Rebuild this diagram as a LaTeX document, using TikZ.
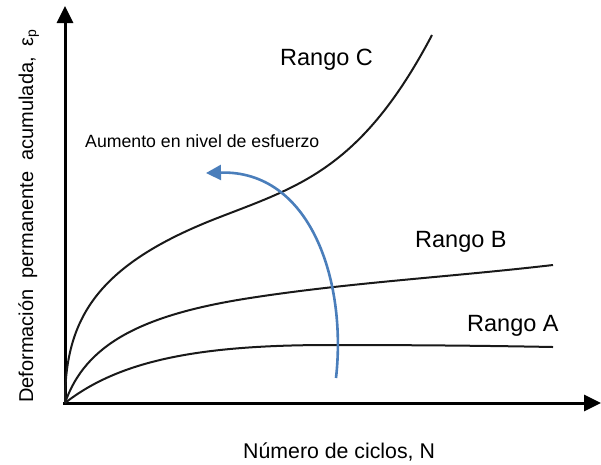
\documentclass[tikz,border=0pt]{standalone}
\usepackage{fontspec}
\setmainfont{Liberation Sans}
\usetikzlibrary{arrows.meta}
\definecolor{arrowblue}{RGB}{74,126,187}
\tikzset{
	axisline/.style={line width=3pt, -{Triangle[length=17pt,width=16pt]}},
	rangecurve/.style={line width=2pt, black!90},
	rangelabel/.style={inner sep=0pt, anchor=base west, font=\fontsize{23.5}{27}\selectfont}
}

\begin{document}
\begin{tikzpicture}[x=1pt, y=-1pt]
	%%%%% START %%%%%
	
	\useasboundingbox (0, 0) rectangle (601, 464);
	
	\coordinate (origin) at (65, 403);
	\coordinate (xend) at (601, 403);
	\coordinate (yend) at (65, 6);
	
	\draw[axisline] (63, 403) -- (xend);
	\draw[axisline] (65, 404.5) -- (yend);
	
	% rango A
	\draw[rangecurve] (origin) .. controls (120, 360) and (200, 345) .. (330, 345) .. controls (430, 345) and (500, 346) .. (553, 347);
	% rango B
	\draw[rangecurve] (origin) .. controls (85, 345) and (140, 315) .. (250, 298) .. controls (350, 282.5) and (450, 277) .. (553, 265);
	% rango C
	\draw[rangecurve] (origin) .. controls (65, 320) and (95, 265) .. (220, 217) .. controls (300, 186) and (362, 168) .. (432, 35);
	
	% aumento
	\draw[line width=2.6pt, arrowblue, -{Triangle[length=15pt,width=15pt]}] (336, 378) .. controls (347, 280) and (310, 170) .. (206, 173);
	
	\node[rangelabel] (rangoC) at (280, 65) {Rango C};
	\node[rangelabel] (rangoB) at (415, 247) {Rango B};
	\node[rangelabel] (rangoA) at (467, 331) {Rango A};
	\node[inner sep=0pt, anchor=base west, font=\fontsize{17.7}{21}\selectfont] (aumento) at (85, 147) {Aumento en nivel de esfuerzo};
	
	\node[inner sep=0pt, anchor=base west, font=\fontsize{21.3}{25}\selectfont] (xlabel) at (243, 458) {Número de ciclos, N};
	\node[inner sep=0pt, anchor=base west, rotate=90, font=\fontsize{20}{24}\selectfont] (ylabel) at (33, 403) {Deformación\ \ permanente\ \ acumulada,\ \ ε\textsubscript{p}};
	
	%%%%% END %%%%%
\end{tikzpicture}
\end{document}
